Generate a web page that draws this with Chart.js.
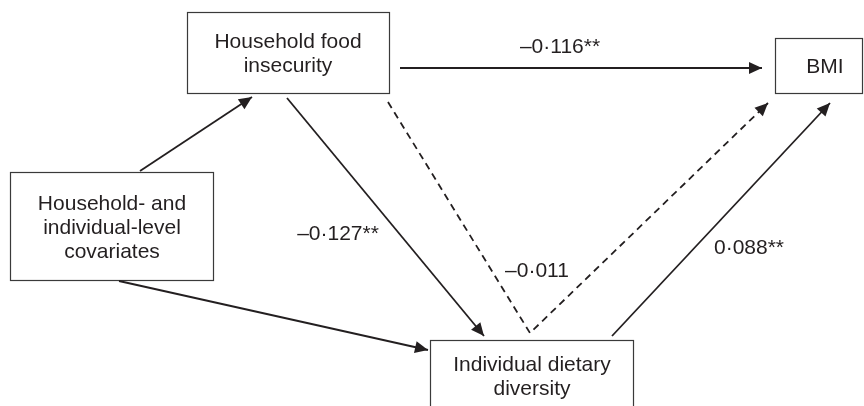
<!DOCTYPE html>
<html>
<head>
<meta charset="utf-8">
<script src="https://cdn.jsdelivr.net/npm/chart.js@4"></script>
<style>
  body { margin: 0; background: #fff; }
  #wrap { width: 864px; height: 406px; position: relative; }
</style>
</head>
<body>
<div id="wrap"><canvas id="pathChart"></canvas></div>
<script>
// Nodes of the path model (box corners and text lines in picture units)
const nodeLines = [
  ['Household food', 'insecurity'],
  ['BMI'],
  ['Household- and', 'individual-level', 'covariates'],
  ['Individual dietary', 'diversity']
];
const nodeLeft = [187, 775, 10, 430];
const nodeTop = [12, 38, 172, 340];
const nodeRight = [389, 862, 213, 633];
const nodeBottom = [93, 93, 280, 412];
const nodeTextX = [288, 825, 112, 532];
const nodeTextY = [42, 67, 204, 365];

// Paths between nodes (start, optional bend, end)
const edgePoints = [
  [[140, 171], [252, 97]],
  [[400, 68], [762, 68]],
  [[287, 98], [484, 336]],
  [[388, 102], [530, 333], [768, 103]],
  [[612, 336], [830, 103]],
  [[119, 281], [428, 350]]
];
const edgeDashed = [false, false, false, true, false, false];

// Path coefficients
const coefText = ['\u20130\u00b7116**', '\u20130\u00b7127**', '\u20130\u00b7011', '0\u00b7088**'];
const coefX = [560, 338, 537, 749];
const coefY = [47, 234, 271, 248];

const ink = '#231f20';
const fontFamily = '"Liberation Sans", Arial, sans-serif';

// Boxes, node text and coefficient labels
const boxPlugin = {
  id: 'boxes',
  beforeDatasetsDraw(chart) {
    const ctx = chart.ctx;
    const xs = chart.scales.x, ys = chart.scales.y;
    ctx.save();
    ctx.strokeStyle = '#3a3a3a';
    ctx.lineWidth = 1.2;
    nodeLines.forEach((lines, i) => {
      const x0 = xs.getPixelForValue(nodeLeft[i]);
      const x1 = xs.getPixelForValue(nodeRight[i]);
      const y0 = ys.getPixelForValue(nodeTop[i]);
      const y1 = ys.getPixelForValue(nodeBottom[i]);
      ctx.strokeRect(x0 + 0.5, y0 + 0.5, x1 - x0, y1 - y0);
    });
    ctx.restore();
  },
  afterDatasetsDraw(chart) {
    const ctx = chart.ctx;
    const xs = chart.scales.x, ys = chart.scales.y;
    ctx.save();
    ctx.fillStyle = ink;
    ctx.textAlign = 'center';
    ctx.textBaseline = 'middle';
    ctx.font = '21px ' + fontFamily;
    nodeLines.forEach((lines, i) => {
      lines.forEach((t, j) => {
        ctx.fillText(t, xs.getPixelForValue(nodeTextX[i]), ys.getPixelForValue(nodeTextY[i] + j * 24));
      });
    });
    coefText.forEach((t, i) => {
      ctx.fillText(t, xs.getPixelForValue(coefX[i]), ys.getPixelForValue(coefY[i]));
    });

    // arrow heads at the end of each path
    chart.data.datasets.forEach((ds, i) => {
      const pts = chart.getDatasetMeta(i).data;
      const a = pts[pts.length - 2], b = pts[pts.length - 1];
      const ang = Math.atan2(b.y - a.y, b.x - a.x);
      const len = 13, half = 6;
      ctx.beginPath();
      ctx.moveTo(b.x, b.y);
      ctx.lineTo(b.x - len * Math.cos(ang) + half * Math.sin(ang), b.y - len * Math.sin(ang) - half * Math.cos(ang));
      ctx.lineTo(b.x - len * Math.cos(ang) - half * Math.sin(ang), b.y - len * Math.sin(ang) + half * Math.cos(ang));
      ctx.closePath();
      ctx.fill();
    });
    ctx.restore();
  }
};

const datasets = edgePoints.map((pts, i) => ({
  data: pts.map(p => ({ x: p[0], y: p[1] })),
  showLine: true,
  borderColor: ink,
  borderWidth: 1.8,
  borderDash: edgeDashed[i] ? [7, 5] : [],
  pointRadius: 0,
  clip: false,
  tension: 0
}));

new Chart(document.getElementById('pathChart'), {
  type: 'scatter',
  data: { datasets },
  options: {
    responsive: true,
    maintainAspectRatio: false,
    animation: false,
    layout: { padding: 0 },
    plugins: { legend: { display: false }, tooltip: { enabled: false } },
    scales: {
      x: { type: 'linear', min: 0, max: 864, display: false },
      y: { type: 'linear', min: 0, max: 406, reverse: true, display: false }
    }
  },
  plugins: [boxPlugin]
});
</script>
</body>
</html>
